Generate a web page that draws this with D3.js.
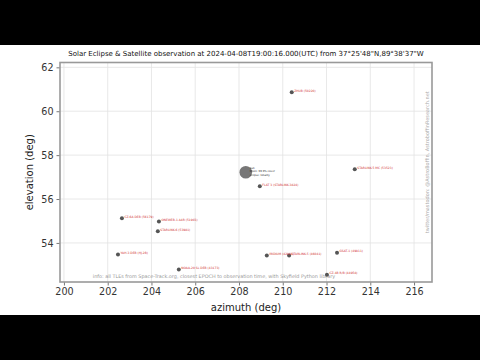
<!DOCTYPE html>
<html>
<head>
<meta charset="utf-8">
<script src="https://cdn.jsdelivr.net/npm/d3@7"></script>
<style>
  html, body { margin: 0; padding: 0; background: #000; }
  svg { display: block; }
  text { font-family: "DejaVu Sans", sans-serif; }
</style>
</head>
<body>
<script>
// satellites seen near the sun
const satNames = ["ZHUB (50220)", "STARLINK-5 MC (53523)", "FLAT 3 (STARLINK-3824)", "CZ-6A DEB (56179)",
  "ONEWEB-1 A4R (51903)", "STARLINK-6 (53981)", "YAH-3 DEB (HJ-2B)", "NOAA-20 SL DEB (43173)",
  "IRIDIUM (42801)", "STARLINK-5 (46041)", "GSAT-1 (49811)", "CZ-4B R/B (44958)"];
const satAz = [210.41, 213.29, 208.95, 202.65, 204.34, 204.29, 202.47, 205.25, 209.27, 210.29, 212.48, 212.02];
const satEl = [60.87, 57.36, 56.58, 55.12, 54.98, 54.53, 53.47, 52.79, 53.43, 53.43, 53.55, 52.55];

const sunAz = 208.31, sunEl = 57.22;
const sunLabels = ["Sun", "Moon: 99.9% cover", "eclipse: totality"];

const xTicks = [200, 202, 204, 206, 208, 210, 212, 214, 216];
const yTicks = [54, 56, 58, 60, 62];

const W = 480, H = 360;
const margin = { top: 62.5, right: 48, bottom: 78, left: 60 };
const width = W - margin.left - margin.right,
      height = H - margin.top - margin.bottom;

const root = d3.select('body').append('svg')
    .attr('width', W)
    .attr('height', H);

// letterbox
root.append('rect').attr('width', W).attr('height', H).attr('fill', '#000');
root.append('rect').attr('y', 45).attr('width', W).attr('height', 270).attr('fill', '#fff');

const svg = root.append('g')
    .attr('transform', `translate(${margin.left}, ${margin.top})`);

const x = d3.scaleLinear().domain([199.82, 216.82]).range([0, width]);
const y = d3.scaleLinear().domain([52.22, 62.22]).range([height, 0]);

// grid
svg.append('g').selectAll('line').data(xTicks).enter().append('line')
    .attr('x1', d => x(d)).attr('x2', d => x(d))
    .attr('y1', 0).attr('y2', height)
    .attr('stroke', '#e2e2e2').attr('stroke-width', 0.8);
svg.append('g').selectAll('line').data(yTicks).enter().append('line')
    .attr('y1', d => y(d)).attr('y2', d => y(d))
    .attr('x1', 0).attr('x2', width)
    .attr('stroke', '#e2e2e2').attr('stroke-width', 0.8);

// axes
const xAxis = d3.axisBottom(x).tickValues(xTicks).tickSize(3.5).tickSizeOuter(0).tickPadding(3);
const yAxis = d3.axisLeft(y).tickValues(yTicks).tickSize(3.5).tickSizeOuter(0).tickPadding(3);

const gx = svg.append('g').attr('transform', `translate(0, ${height})`).call(xAxis);
const gy = svg.append('g').call(yAxis);
[gx, gy].forEach(g => {
  g.select('.domain').remove();
  g.selectAll('line').attr('stroke', '#555').attr('stroke-width', 0.8);
  g.selectAll('text').attr('font-size', 9.6).attr('fill', '#333')
    .attr('font-family', '"DejaVu Sans", sans-serif');
});

// frame
svg.append('rect')
    .attr('width', width).attr('height', height)
    .attr('fill', 'none').attr('stroke', '#999').attr('stroke-width', 1.6);

// info text
svg.append('text')
    .attr('x', width / 2 - 32).attr('y', height - 4)
    .attr('text-anchor', 'middle')
    .attr('font-size', 4.9).attr('fill', '#999')
    .text('info: all TLEs from Space-Track.org, closest EPOCH to observation time, with Skyfield Python library');

// credit text on the right
svg.append('text')
    .attr('transform', `translate(${width - 3}, ${height / 2 - 10}) rotate(-90)`)
    .attr('text-anchor', 'middle')
    .attr('font-size', 5).attr('fill', '#aaa')
    .text('twitter/mastodon: @AstroBoffin, AstroboffinResearch.net');

// sun
svg.append('circle')
    .attr('cx', x(sunAz)).attr('cy', y(sunEl)).attr('r', 6.3)
    .attr('fill', '#777');
svg.append('g').selectAll('text').data(sunLabels).enter().append('text')
    .attr('x', x(sunAz) + 4)
    .attr('y', (d, i) => y(sunEl) - 3 + i * 3.2)
    .attr('font-size', 2.6).attr('fill', '#222')
    .text(d => d);

// satellites
const sats = satNames.map((n, i) => ({ name: n, az: satAz[i], el: satEl[i] }));
svg.append('g').selectAll('circle').data(sats).enter().append('circle')
    .attr('cx', d => x(d.az)).attr('cy', d => y(d.el)).attr('r', 2)
    .attr('fill', '#555');
svg.append('g').selectAll('text').data(sats).enter().append('text')
    .attr('x', d => x(d.az) + 2.5).attr('y', d => y(d.el) - 0.4)
    .attr('font-size', 3).attr('fill', '#d03030')
    .text(d => d.name);

// labels
root.append('text')
    .attr('x', margin.left + width / 2).attr('y', 56)
    .attr('text-anchor', 'middle')
    .attr('font-size', 7).attr('fill', '#111')
    .text("Solar Eclipse & Satellite observation at 2024-04-08T19:00:16.000(UTC) from 37°25'48\"N,89°38'37\"W");

root.append('text')
    .attr('x', margin.left + width / 2).attr('y', 311)
    .attr('text-anchor', 'middle')
    .attr('font-size', 10).attr('fill', '#222')
    .text('azimuth (deg)');

root.append('text')
    .attr('transform', `translate(33, ${margin.top + height / 2}) rotate(-90)`)
    .attr('text-anchor', 'middle')
    .attr('font-size', 10).attr('fill', '#222')
    .text('elevation (deg)');
</script>
</body>
</html>
